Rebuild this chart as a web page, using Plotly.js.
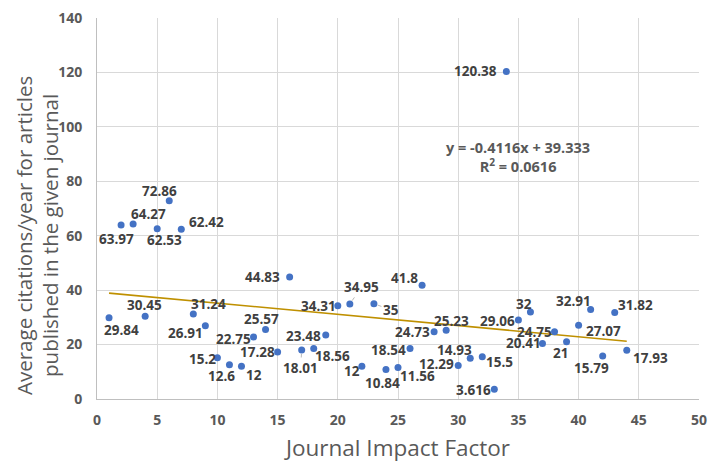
<!DOCTYPE html>
<html>
<head>
<meta charset="utf-8">
<script src="https://cdn.plot.ly/plotly-3.0.1.min.js"></script>
<style>html,body{margin:0;padding:0;background:#fff;}#chart{width:720px;height:465px;}</style>
</head>
<body>
<div id="chart"></div>
<script>
// Data
const impactFactor = [1,2,3,4,5,6,7,8,9,10,11,12,13,14,15,16,17,18,19,20,21,22,23,24,25,26,27,28,29,30,31,32,33,34,35,36,37,38,39,40,41,42,43,44];
const avgCitations = [29.84,63.97,64.27,30.45,62.53,72.86,62.42,31.24,26.91,15.2,12.6,12,22.75,25.57,17.28,44.83,18.01,18.56,23.48,34.31,34.95,12,35,10.84,11.56,18.54,41.8,24.73,25.23,12.29,14.93,15.5,3.616,120.38,29.06,32,20.41,24.75,21,27.07,32.91,15.79,31.82,17.93];
const trendSlope = -0.4116;
const trendIntercept = 39.333;
const rSquared = 0.0616;
const xTicks = [0,5,10,15,20,25,30,35,40,45,50];
const yTicks = [0,20,40,60,80,100,120,140];
const xTitle = 'Journal Impact Factor';
const yTitle = 'Average citations/year for articles<br>published in the given journal';

// Label placement offsets in pixels (dx right, dy down) — layout only
const labelDx = [12,-5,15,-1,7,-10,25,15,-20,-15,-8,13,-20,-4,-20,-27,-1,19,-22,-19,12,-10,17,-3,19,-22,-18,-22,5,-22,-16,17,-21,-31,-21,-6,-19,-20,-6,25,-17,-11,21,24];
const labelDy = [12,14,-10,-11,11,-10,-7,-10,7,1,11,9,2,-10,0,0,18,8,1,0,-17,5,6,13,8,1,-7,0,-9,-2,-8,5,1,0,1,-8,0,0,11,6,-8,12,-7,8];
const leaderIdx = [16,20,22];

const FONT = '"Open Sans", "DejaVu Sans", sans-serif';
const labelFont = {family:FONT, size:13.5, color:'#404040', weight:700};

const annotations = avgCitations.map((v,i)=>{
  const lead = leaderIdx.includes(i);
  const a = {x:impactFactor[i], y:v, xref:'x', yref:'y', text:'<b>'+String(v)+'</b>', font:labelFont};
  if(lead){
    Object.assign(a,{showarrow:true, ax:labelDx[i], ay:labelDy[i], arrowhead:0, arrowwidth:0.8, arrowcolor:'#a6a6a6', standoff:4});
  } else {
    Object.assign(a,{showarrow:false, xshift:labelDx[i], yshift:-labelDy[i]});
  }
  return a;
});
annotations.push({
  xref:'paper', yref:'paper', x:0.70, y:0.635, xanchor:'center', yanchor:'middle', showarrow:false, align:'center',
  text:'<b>y = '+trendSlope+'x + '+trendIntercept+'<br>R<sup>2</sup> = '+rSquared+'</b>',
  font:{family:FONT, size:14.5, color:'#595959'}
});
// y-axis title (placed as rotated annotation to mimic the reference's offset)
annotations.push({
  xref:'paper', yref:'paper', x:-0.1, y:0.43, xanchor:'center', yanchor:'middle', showarrow:false, align:'center',
  textangle:-90, text:yTitle, font:{family:FONT, size:20.5, color:'#595959'}
});

const xFitEnds = [impactFactor[0], impactFactor[impactFactor.length-1]];
const trace = {
  x: impactFactor, y: avgCitations, mode:'markers', type:'scatter',
  marker:{color:'#4472C4', size:7}, hoverinfo:'x+y'
};
const trend = {
  x: xFitEnds, y: xFitEnds.map(x=>trendSlope*x+trendIntercept), mode:'lines', type:'scatter',
  line:{color:'#BF9000', width:1.6}, hoverinfo:'skip'
};

const axisTickFont = {family:FONT, size:14, color:'#595959', weight:700};
const layout = {
  width:720, height:465,
  margin:{l:97, r:21, t:18, b:66},
  paper_bgcolor:'#fff', plot_bgcolor:'#fff',
  showlegend:false,
  xaxis:{range:[0,50], tickvals:xTicks, ticktext:xTicks.map(String), showgrid:true, gridcolor:'#d9d9d9', gridwidth:1,
    zeroline:false, showline:true, linecolor:'#bfbfbf', linewidth:1, ticks:'', tickfont:axisTickFont, ticklabelstandoff:8,
    title:{text:xTitle, font:{family:FONT, size:22.5, color:'#595959'}, standoff:12}},
  yaxis:{range:[0,140], tickvals:yTicks, ticktext:yTicks.map(String), showgrid:true, gridcolor:'#d9d9d9', gridwidth:1,
    zeroline:false, showline:true, linecolor:'#bfbfbf', linewidth:1, ticks:'', tickfont:axisTickFont, ticklabelstandoff:11},
  annotations: annotations
};
Plotly.newPlot('chart',[trend,trace],layout,{displayModeBar:false, staticPlot:true});
</script>
</body>
</html>
